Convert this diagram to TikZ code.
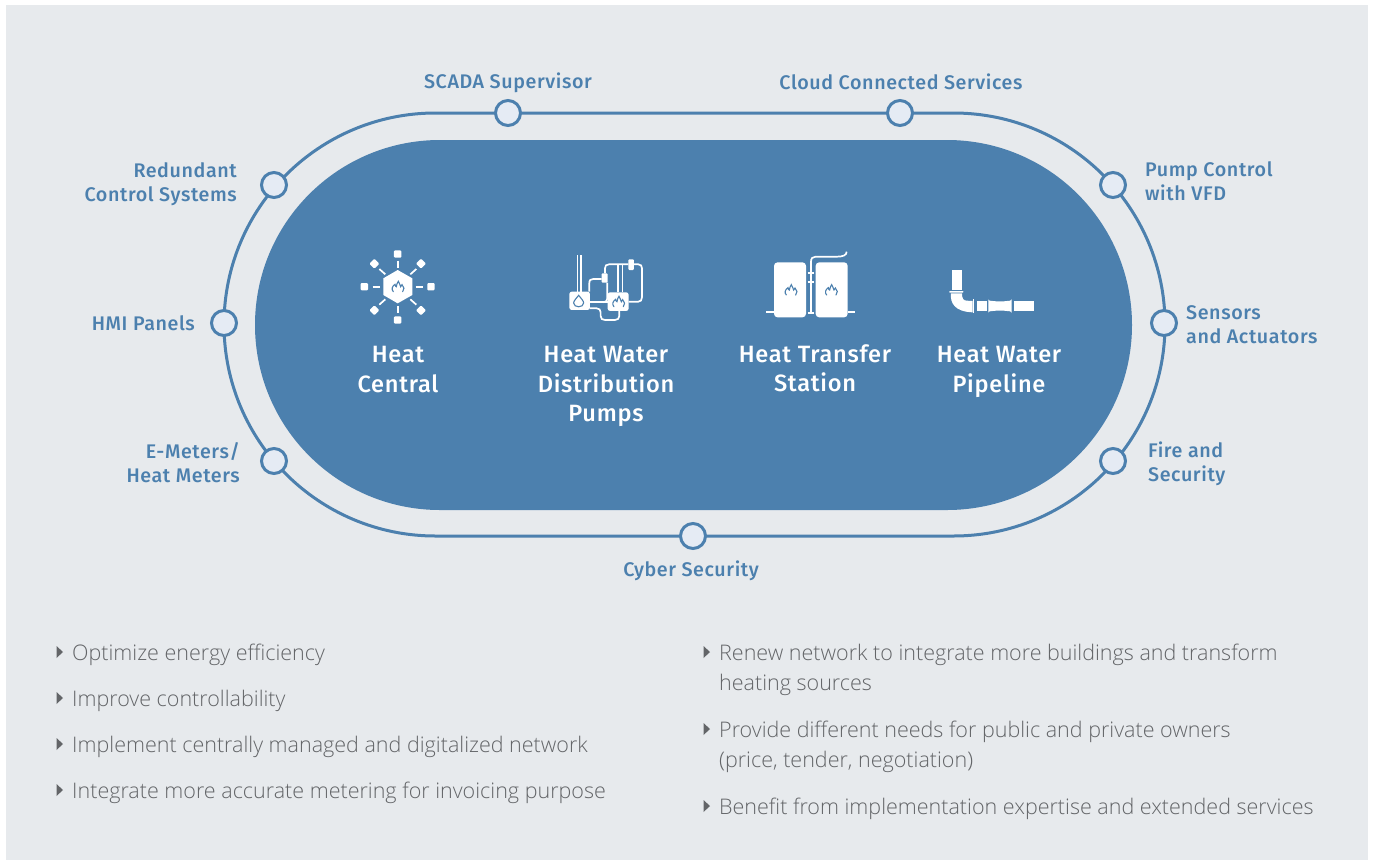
\documentclass[tikz,border=0pt]{standalone}
\usepackage{fontspec}
\newfontfamily\labfont[LetterSpace=3]{Fira Sans Medium}
\newfontfamily\bodyfont{Open Sans Light}
\definecolor{bluemain}{HTML}{4C80AE}
\definecolor{bgpanel}{HTML}{E7EAED}
\definecolor{dotfill}{HTML}{E5EBF4}
\definecolor{bodygrey}{HTML}{636568}
\definecolor{labblue}{HTML}{4C80AE}
\tikzset{
 ringdot/.style={circle,draw=bluemain,fill=dotfill,line width=3pt,minimum size=25pt,inner sep=0pt},
 lab/.style={text=labblue,inner sep=0pt,font=\labfont\fontsize{19.7}{24}\selectfont},
 whitelab/.style={text=white,inner sep=0pt,align=center,font=\labfont\fontsize{23.6}{29.5}\selectfont},
 bodytxt/.style={text=bodygrey,inner sep=0pt,anchor=west,align=left,font=\bodyfont\fontsize{21.5}{30.5}\selectfont},
 bullet/.style={fill=bodygrey},
 wpipe/.style={draw=white,line width=1.7pt,fill=none},
 flameline/.style={draw=bluemain,line width=1.1pt,fill=none,line cap=round},
}
\newcommand{\flameicon}[2]{% centre in zoom coordinates
 \draw[flameline,shift={(#1,#2)}] (-13,15) .. controls (-20,8) and (-16,-2) .. (-8,-7)
   .. controls (-7,-2) and (-6,0) .. (-4,0) .. controls (-3,-7) and (-1,-12) .. (2,-16)
   .. controls (5,-9) and (8,-5) .. (9,0) .. controls (11,-1) and (12,-3) .. (13,-6)
   .. controls (20,0) and (21,9) .. (15,15);
}
\newcommand{\tri}[2]{\fill[bullet] (#1+1.5,#2-6) -- (#1+8,#2) -- (#1+1.5,#2+6) -- cycle;}
\begin{document}
\begin{tikzpicture}[x=1pt,y=-1pt]
\useasboundingbox (0,0) rectangle (1373,860);
\fill[white] (0,0) rectangle (1373,860);
\fill[bgpanel] (6,5) rectangle (1368,860);
% ring and central stadium
\draw[bluemain,line width=3pt,rounded corners=211.5pt] (224,113) rectangle (1165,536);
\fill[bluemain,rounded corners=185pt] (255,140) rectangle (1132,510);
% ring dots
\node[ringdot] (d1) at (508,113) {};
\node[ringdot] (d2) at (900,113) {};
\node[ringdot] (d3) at (1113,185) {};
\node[ringdot] (d4) at (1164,323) {};
\node[ringdot] (d5) at (1113,461) {};
\node[ringdot] (d6) at (693,536) {};
\node[ringdot] (d7) at (274,461) {};
\node[ringdot] (d8) at (224,323) {};
\node[ringdot] (d9) at (274,185) {};
% ring labels
\node[lab] (l1) at (508,83) {SCADA Supervisor};
\node[lab] (l2) at (901,82) {Cloud Connected Services};
\node[lab,anchor=east,align=right] (l9) at (237,184) {Redundant\\Control Systems};
\node[lab,anchor=west,align=left] (l3) at (1145,181) {Pump Control\\with VFD};
\node[lab,anchor=east] (l8) at (195,323.5) {HMI Panels};
\node[lab,anchor=west,align=left] (l4) at (1186,325) {Sensors\\and Actuators};
\node[lab,anchor=east,align=right] (l7) at (240,463) {E-Meters/\\Heat Meters};
\node[lab,anchor=west,align=left] (l5) at (1148,464) {Fire and\\Security};
\node[lab] (l6) at (691,571) {Cyber Security};
% white labels
\node[whitelab,anchor=north] (w1) at (398,346) {Heat\\Central};
\node[whitelab,anchor=north] (w2) at (606,346) {Heat Water\\Distribution\\Pumps};
\node[whitelab,anchor=north] (w3) at (815,344) {Heat Transfer\\Station};
\node[whitelab,anchor=north] (w4) at (999,346) {Heat Water\\Pipeline};
% icon 1: heat central
\begin{scope}[shift={(340,240)},x=0.3333pt,y=-0.3333pt]
 \fill[white] (173,90) -- (217,115) -- (217,165) -- (173,190) -- (130,165) -- (130,115) -- cycle;
 \flameicon{173}{140}
 \foreach \a/\b in {173/42,173/240,73/140,273/140} \fill[white,rounded corners=1pt] (\a-11,\b-11) rectangle (\a+11,\b+11);
 \foreach \a/\b in {103/71,243/71,103/211,243/211} \fill[white,rounded corners=1pt] (\a-15,\b) -- (\a,\b-15) -- (\a+15,\b) -- (\a,\b+15) -- cycle;
 \foreach \p/\q/\r/\s in {173/62/173/83, 173/198/173/220, 98/140/120/140, 227/140/249/140, 118/87/136/103, 229/87/211/103, 118/194/136/178, 229/194/211/178}
   \draw[white,line width=1.7pt] (\p,\q) -- (\r,\s);
% icon 2: pumps
 \draw[wpipe] (713,45) -- (713,155) (724,45) -- (724,155);
 \draw[wpipe] (748,155) -- (748,130) .. controls (748,120) and (752,117) .. (760,117) -- (785,117);
 \draw[wpipe] (750,187) -- (803,187);
 \draw[wpipe] (790,187) .. controls (798,187) and (802,182) .. (802,175) -- (802,128);
 \draw[wpipe] (795,100) -- (795,85) .. controls (795,77) and (799,73) .. (807,73) -- (865,73);
 \draw[wpipe] (835,73) -- (835,157) (848,73) -- (848,157);
 \draw[wpipe] (882,73) -- (895,73) .. controls (903,73) and (906,78) .. (906,85) -- (906,172) .. controls (906,180) and (902,185) .. (895,185) -- (866,185);
 \draw[wpipe] (750,205) -- (770,205) .. controls (778,205) and (782,210) .. (782,217) -- (782,228) .. controls (782,236) and (787,240) .. (795,240) -- (825,240) .. controls (833,240) and (838,235) .. (838,228) -- (838,213);
 \fill[white,rounded corners=2.5pt] (688,155) rectangle (750,210);
 \fill[white,rounded corners=2.5pt] (803,157) rectangle (866,213);
 \fill[white,rounded corners=1pt] (785,100) rectangle (803,128);
 \fill[white,rounded corners=1pt] (865,58) rectangle (882,90);
 \draw[flameline] (716,166) .. controls (708,176) and (701,183) .. (701,189) .. controls (701,204) and (731,204) .. (731,189) .. controls (731,183) and (724,176) .. (716,166) -- cycle;
 \flameicon{835}{185}
\end{scope}
% icons 3 and 4
\begin{scope}[shift={(750,240)},x=0.3333pt,y=-0.3333pt]
 \draw[wpipe] (183,220) -- (183,65) .. controls (183,55) and (188,50) .. (197,50) -- (262,50) .. controls (280,50) and (290,45) .. (290,35);
 \draw[wpipe] (173,100) -- (192,100) (173,127) -- (192,127) (173,218) -- (192,218);
 \draw[wpipe] (48,217) -- (72,217) (293,217) -- (315,217);
 \fill[white,rounded corners=3.5pt] (72,67) rectangle (168,232);
 \fill[white,rounded corners=3.5pt] (197,67) rectangle (293,232);
 \flameicon{122}{150}
 \flameicon{243}{150}
 % pipeline
 \fill[white] (606,90) rectangle (636,150);
 \fill[white,rounded corners=0.5pt] (598,153) rectangle (640,158);
 \fill[white] (603,160) .. controls (600,190) and (615,215) .. (668,217) -- (668,183) -- (650,182) .. controls (640,182) and (636,175) .. (636,160) -- cycle;
 \fill[white] (668,178) rectangle (673,220);
 \fill[white] (681,183) rectangle (711,213);
 \fill[white] (715,178) -- (719,182) .. controls (740,185) and (760,185) .. (781,182) -- (785,178) -- (785,218) -- (781,214) .. controls (760,211) and (740,211) .. (719,214) -- (715,218) -- cycle;
 \fill[white] (792,183) rectangle (852,213);
\end{scope}
% bullets left
\tri{55}{652}\node[bodytxt] (b1) at (72,654.5) {Optimize energy efficiency};
\tri{55}{698}\node[bodytxt] (b2) at (72,700.5) {Improve controllability};
\tri{55}{744}\node[bodytxt] (b3) at (72,746.5) {Implement centrally managed and digitalized network};
\tri{55}{790}\node[bodytxt] (b4) at (72,792.5) {Integrate more accurate metering for invoicing purpose};
% bullets right
\tri{702}{652}\node[bodytxt] (b5) at (719,670) {Renew network to integrate more buildings and transform\\heating sources};
\tri{702}{729}\node[bodytxt] (b6) at (719,747) {Provide different needs for public and private owners\\(price, tender, negotiation)};
\tri{702}{806}\node[bodytxt] (b7) at (719,808.5) {Benefit from implementation expertise and extended services};
\end{tikzpicture}
\end{document}
